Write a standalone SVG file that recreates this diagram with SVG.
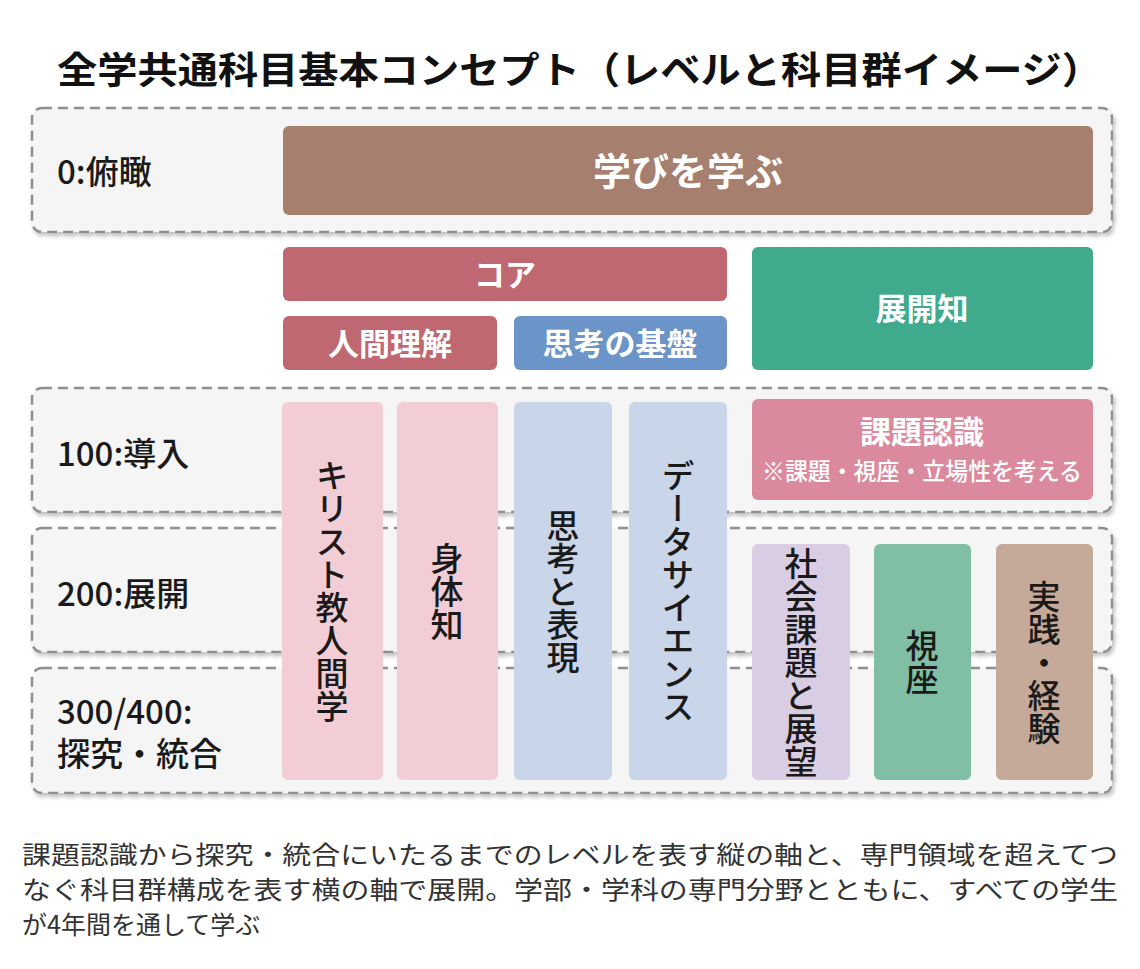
<svg xmlns="http://www.w3.org/2000/svg" width="1140" height="969" viewBox="0 0 1140 969">
<defs>
<filter id="sh" x="-5%" y="-20%" width="110%" height="140%"><feDropShadow dx="2" dy="3" stdDeviation="2" flood-color="#000" flood-opacity="0.25"/></filter>
</defs>
<style>
text{font-family:"Noto Sans CJK JP","Noto Sans",sans-serif}
.band{fill:#f5f5f5;stroke:#8f8f8f;stroke-width:2.5;stroke-dasharray:10,6;filter:url(#sh)}
.lvl{font-size:33px;fill:#1a1a1a;font-weight:500}
.wt{fill:#fff;font-weight:bold;text-anchor:middle}
.vt{writing-mode:vertical-rl;font-size:33px;fill:#1a1a1a;text-anchor:middle;font-weight:500}
.cap{font-size:25px;fill:#333}
</style>
<rect width="1140" height="969" fill="#fff"/>
<text x="57" y="84" font-size="37" font-weight="bold" fill="#111" textLength="1045" lengthAdjust="spacingAndGlyphs">全学共通科目基本コンセプト（レベルと科目群イメージ）</text>
<g id="bands">
<rect class="band" x="32" y="108" width="1080" height="124" rx="10"/>
<rect class="band" x="32" y="388" width="1080" height="124" rx="10"/>
<rect class="band" x="32" y="528" width="1080" height="124" rx="10"/>
<rect class="band" x="32" y="668" width="1080" height="125" rx="10"/>
</g>
<g id="levels">
<text class="lvl" x="57" y="184">0:俯瞰</text>
<text class="lvl" x="57" y="466">100:導入</text>
<text class="lvl" x="57" y="606">200:展開</text>
<text class="lvl" x="57" y="724">300/400:</text>
<text class="lvl" x="57" y="766">探究・統合</text>
</g>
<g id="n-manabi"><rect x="283" y="126" width="810" height="89" rx="6" fill="#a67f6f"/><text class="wt" x="688" y="185" font-size="38">学びを学ぶ</text></g>
<g id="n-core"><rect x="283" y="247" width="444" height="54" rx="6" fill="#c06872"/><text class="wt" x="505" y="286" font-size="31">コア</text></g>
<g id="n-ningen"><rect x="283" y="316" width="214" height="54" rx="6" fill="#c06872"/><text class="wt" x="390" y="355" font-size="31">人間理解</text></g>
<g id="n-shikou"><rect x="514" y="316" width="213" height="54" rx="6" fill="#6b95c8"/><text class="wt" x="620" y="355" font-size="31">思考の基盤</text></g>
<g id="n-tenkai"><rect x="752" y="247" width="341" height="123" rx="6" fill="#3fab8c"/><text class="wt" x="922" y="320" font-size="31">展開知</text></g>
<g id="n-kadai"><rect x="752" y="399" width="341" height="101" rx="6" fill="#db8a9e"/><text class="wt" x="922" y="443" font-size="31">課題認識</text><text x="922" y="480" font-size="24" fill="#fff" text-anchor="middle" font-weight="500" textLength="320" lengthAdjust="spacingAndGlyphs">※課題・視座・立場性を考える</text></g>
<g id="n-christ"><rect x="282" y="402" width="101" height="378" rx="6" fill="#f2cdd5"/><text class="vt" x="332" y="591">キリスト教人間学</text></g>
<g id="n-shintai"><rect x="397" y="402" width="101" height="378" rx="6" fill="#f2cdd5"/><text class="vt" x="447" y="591">身体知</text></g>
<g id="n-hyogen"><rect x="514" y="402" width="98" height="378" rx="6" fill="#c9d5e8"/><text class="vt" x="563" y="591">思考と表現</text></g>
<g id="n-data"><rect x="629" y="402" width="98" height="378" rx="6" fill="#c9d5e8"/><text class="vt" x="678" y="591">データサイエンス</text></g>
<g id="n-shakai"><rect x="752" y="544" width="98" height="236" rx="6" fill="#d9cde3"/><text class="vt" x="801" y="662">社会課題と展望</text></g>
<g id="n-shiza"><rect x="874" y="544" width="97" height="236" rx="6" fill="#80bfa6"/><text class="vt" x="922" y="662">視座</text></g>
<g id="n-jissen"><rect x="996" y="544" width="97" height="236" rx="6" fill="#c5aa99"/><text class="vt" x="1044" y="662">実践・経験</text></g>
<g id="connectors"/>
<g id="caption">
<text class="cap" x="22" y="864" textLength="1096" lengthAdjust="spacingAndGlyphs">課題認識から探究・統合にいたるまでのレベルを表す縦の軸と、専門領域を超えてつ</text>
<text class="cap" x="22" y="899" textLength="1096" lengthAdjust="spacingAndGlyphs">なぐ科目群構成を表す横の軸で展開。学部・学科の専門分野とともに、すべての学生</text>
<text class="cap" x="22" y="934">が4年間を通して学ぶ</text>
</g>
</svg>
